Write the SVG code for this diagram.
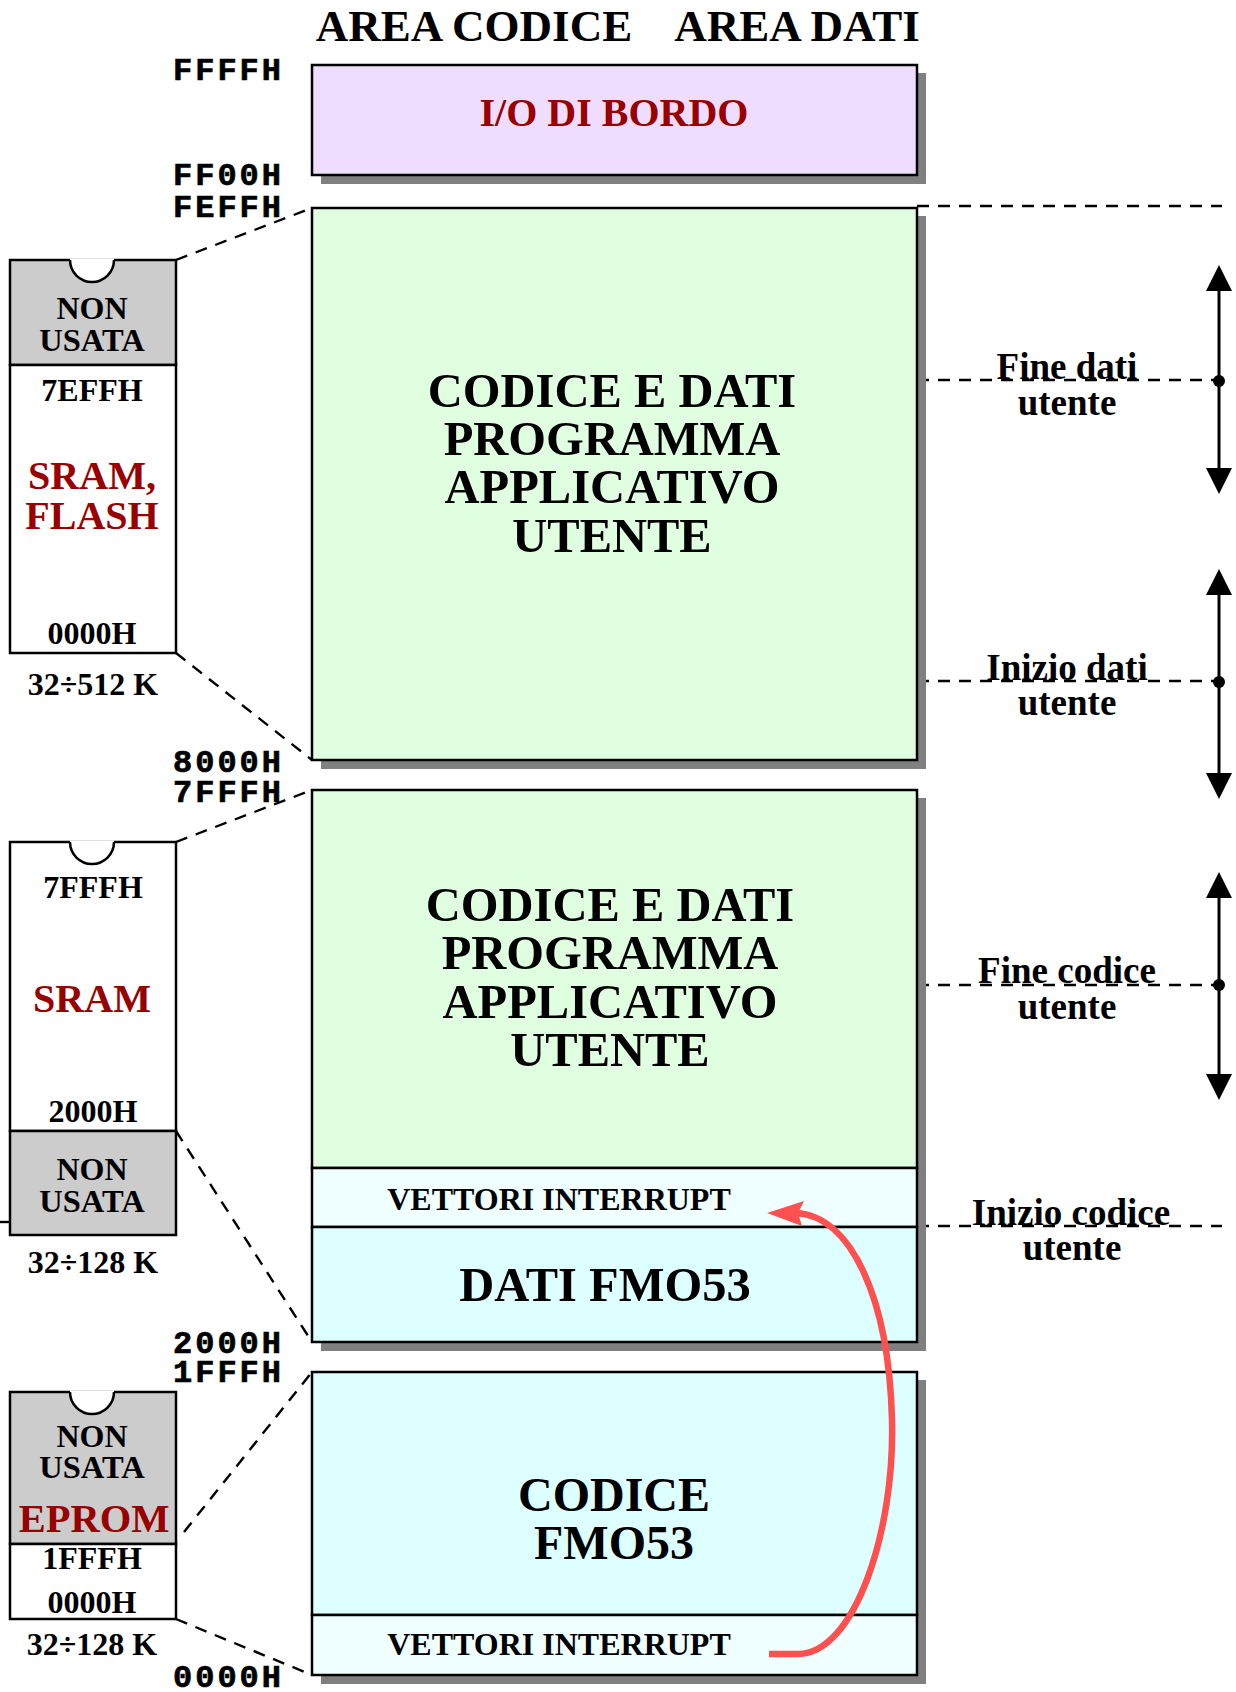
<svg xmlns="http://www.w3.org/2000/svg" width="1236" height="1692" viewBox="0 0 1236 1692">
<style>
.box{stroke:#000;stroke-width:2.5}
.sh{fill:#808080}
.dash{stroke:#000;stroke-width:2.4;stroke-dasharray:12 9;fill:none}
.t{font-family:"Liberation Serif","Times New Roman",serif;font-weight:bold;text-anchor:middle;fill:#000}
.mono{font-family:"Liberation Mono","Courier New",monospace;font-weight:bold;font-size:32px;text-anchor:end;letter-spacing:3px;fill:#000;stroke:#000;stroke-width:0.7}
.red{fill:#990000}
.chipg{fill:#CCCCCC;stroke:#000;stroke-width:2.5}
.chipw{fill:#FFFFFF;stroke:#000;stroke-width:2.5}
.notch{fill:#FFFFFF;stroke:#000;stroke-width:2.5}
.ar{stroke:#000;stroke-width:3;fill:none}
</style>

<g id="titles">
<text class="t" x="474" y="41" font-size="45">AREA CODICE</text>
<text class="t" x="797" y="41" font-size="45">AREA DATI</text>
</g>

<g id="addresses">
<text class="mono" x="284" y="80">FFFFH</text>
<text class="mono" x="284" y="185">FF00H</text>
<text class="mono" x="284" y="217">FEFFH</text>
<text class="mono" x="284" y="772">8000H</text>
<text class="mono" x="284" y="802">7FFFH</text>
<text class="mono" x="284" y="1353">2000H</text>
<text class="mono" x="284" y="1382">1FFFH</text>
<text class="mono" x="284" y="1687">0000H</text>
</g>

<g id="connectors">
<line class="dash" x1="176" y1="260" x2="312" y2="208"/>
<line class="dash" x1="176" y1="653" x2="312" y2="760"/>
<line class="dash" x1="176" y1="842" x2="312" y2="790"/>
<line class="dash" x1="176" y1="1131" x2="312" y2="1342"/>
<line class="dash" x1="184" y1="1532" x2="312" y2="1372"/>
<line class="dash" x1="176" y1="1619" x2="312" y2="1675"/>
<line class="dash" x1="0" y1="1222" x2="9" y2="1222" stroke-dasharray="3 4"/>
<line class="dash" x1="917" y1="206" x2="1222" y2="206"/>
<line class="dash" x1="917" y1="380" x2="1219" y2="380"/>
<line class="dash" x1="917" y1="681" x2="1219" y2="681"/>
<line class="dash" x1="917" y1="985" x2="1219" y2="985"/>
<line class="dash" x1="917" y1="1226" x2="1222" y2="1226"/>
<line class="ar" x1="1219" y1="288" x2="1219" y2="472"/>
<polygon points="1219,265 1206,291 1232,291"/>
<polygon points="1219,494 1206,468 1232,468"/>
<circle cx="1219" cy="381" r="6"/>
<line class="ar" x1="1219" y1="592" x2="1219" y2="777"/>
<polygon points="1219,569 1206,595 1232,595"/>
<polygon points="1219,799 1206,773 1232,773"/>
<circle cx="1219" cy="682" r="6"/>
<line class="ar" x1="1219" y1="895" x2="1219" y2="1077"/>
<polygon points="1219,872 1206,898 1232,898"/>
<polygon points="1219,1100 1206,1074 1232,1074"/>
<circle cx="1219" cy="985" r="6"/>
</g>

<g id="io-bordo">
<rect class="sh" x="321" y="73" width="605" height="111"/>
<rect class="box" x="312" y="65" width="605" height="110" fill="#EEDDFE"/>
<text class="t red" x="614" y="126" font-size="40">I/O DI BORDO</text>
</g>

<g id="codice-dati-1">
<rect class="sh" x="321" y="216" width="605" height="553"/>
<rect class="box" x="312" y="208" width="605" height="552" fill="#E0FFE0"/>
<text class="t" font-size="48.5" x="612" y="407">CODICE E DATI</text>
<text class="t" font-size="48.5" x="612" y="455">PROGRAMMA</text>
<text class="t" font-size="48.5" x="612" y="503">APPLICATIVO</text>
<text class="t" font-size="48.5" x="612" y="552">UTENTE</text>
</g>

<g id="codice-dati-2">
<rect class="sh" x="321" y="798" width="605" height="553"/>
<rect class="box" x="312" y="790" width="605" height="378" fill="#E0FFE0"/>
<text class="t" font-size="48.5" x="610" y="921">CODICE E DATI</text>
<text class="t" font-size="48.5" x="610" y="969">PROGRAMMA</text>
<text class="t" font-size="48.5" x="610" y="1018">APPLICATIVO</text>
<text class="t" font-size="48.5" x="610" y="1066">UTENTE</text>
</g>

<g id="vettori-1">
<rect class="box" x="312" y="1168" width="605" height="59" fill="#F0FFFF"/>
<text class="t" font-size="32" x="559" y="1210">VETTORI INTERRUPT</text>
</g>

<g id="dati-fmo53">
<rect class="box" x="312" y="1227" width="605" height="115" fill="#DDFFFF"/>
<text class="t" font-size="48.5" x="605" y="1301">DATI FMO53</text>
</g>

<g id="codice-fmo53">
<rect class="sh" x="321" y="1380" width="605" height="304"/>
<rect class="box" x="312" y="1372" width="605" height="243" fill="#DDFFFF"/>
<text class="t" font-size="48" x="614" y="1511">CODICE</text>
<text class="t" font-size="48" x="614" y="1559">FMO53</text>
</g>

<g id="vettori-2">
<rect class="box" x="312" y="1615" width="605" height="60" fill="#F0FFFF"/>
<text class="t" font-size="32" x="559" y="1655">VETTORI INTERRUPT</text>
</g>

<g id="chip-1">
<rect class="chipg" x="10" y="260" width="166" height="105"/>
<rect class="chipw" x="10" y="365" width="166" height="288"/>
<path d="M70 258.5 L70 260 A22 22 0 0 0 114 260 L114 258.5 Z" fill="#FFFFFF"/>
<path class="notch" d="M70 260 A22 22 0 0 0 114 260" fill="none"/>
<text class="t" font-size="32" x="92" y="319">NON</text>
<text class="t" font-size="32.5" x="92" y="351">USATA</text>
<text class="t" font-size="32" x="92" y="401">7EFFH</text>
<text class="t red" font-size="40" x="92" y="489">SRAM,</text>
<text class="t red" font-size="40" x="92" y="529">FLASH</text>
<text class="t" font-size="32" x="92" y="644">0000H</text>
<text class="t" font-size="32" x="93" y="695">32÷512 K</text>
</g>

<g id="chip-2">
<rect class="chipw" x="10" y="842" width="166" height="289"/>
<rect class="chipg" x="10" y="1131" width="166" height="104"/>
<path d="M70 840.5 L70 842 A22 22 0 0 0 114 842 L114 840.5 Z" fill="#FFFFFF"/>
<path class="notch" d="M70 842 A22 22 0 0 0 114 842" fill="none"/>
<text class="t" font-size="32" x="93" y="898">7FFFH</text>
<text class="t red" font-size="40" x="92" y="1012">SRAM</text>
<text class="t" font-size="32" x="93" y="1122">2000H</text>
<text class="t" font-size="32" x="92" y="1180">NON</text>
<text class="t" font-size="32.5" x="92" y="1212">USATA</text>
<text class="t" font-size="32" x="93" y="1273">32÷128 K</text>
</g>

<g id="chip-3">
<rect class="chipg" x="10" y="1392" width="166" height="152"/>
<rect class="chipw" x="10" y="1544" width="166" height="75"/>
<path d="M70 1390.5 L70 1392 A22 22 0 0 0 114 1392 L114 1390.5 Z" fill="#FFFFFF"/>
<path class="notch" d="M70 1392 A22 22 0 0 0 114 1392" fill="none"/>
<text class="t" font-size="32" x="92" y="1447">NON</text>
<text class="t" font-size="32.5" x="92" y="1478">USATA</text>
<text class="t red" font-size="40.5" x="94" y="1532">EPROM</text>
<text class="t" font-size="32" x="92" y="1569">1FFFH</text>
<text class="t" font-size="32" x="92" y="1613">0000H</text>
<text class="t" font-size="32" x="92" y="1655">32÷128 K</text>
</g>

<g id="labels-right">
<text class="t" font-size="37" x="1067" y="379">Fine dati</text>
<text class="t" font-size="37" x="1067" y="415">utente</text>
<text class="t" font-size="37" x="1067" y="680">Inizio dati</text>
<text class="t" font-size="37" x="1067" y="715">utente</text>
<text class="t" font-size="37" x="1067" y="983">Fine codice</text>
<text class="t" font-size="37" x="1067" y="1019">utente</text>
<text class="t" font-size="37" x="1071" y="1225">Inizio codice</text>
<text class="t" font-size="37" x="1072" y="1260">utente</text>
</g>

<g id="interrupt-arrow">
<path d="M769 1654 L798 1654 C855 1654 895 1530 892 1420 C889 1300 852 1216 796 1213" fill="none" stroke="#FF5050" stroke-width="6.5"/>
<polygon points="767,1213 804,1201 798,1213 802,1226" fill="#FF5050"/>
</g>
</svg>
